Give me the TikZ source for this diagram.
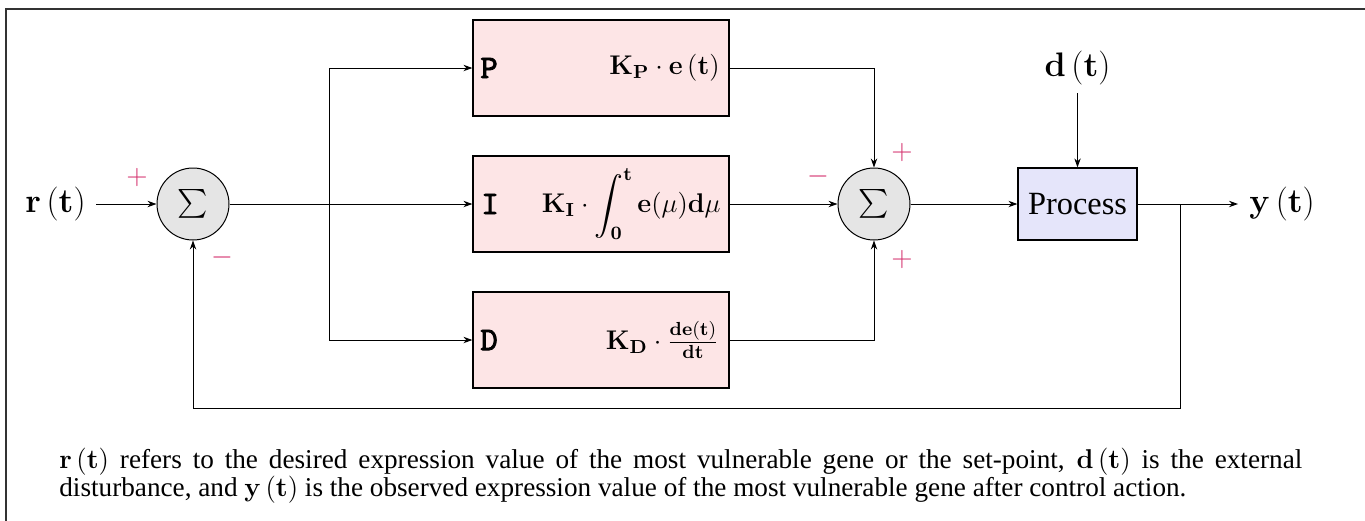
\RequirePackage{fix-cm}
\documentclass[tikz,border=0pt]{standalone}
\usepackage{amsmath}
\usepackage[no-math]{fontspec}
\setmainfont{Liberation Serif}
\newfontfamily\pidfont{lmmono10-regular.otf}[FakeBold=2.5]
\usetikzlibrary{arrows.meta}
\definecolor{pidfill}{RGB}{253,229,230}
\definecolor{procfill}{RGB}{229,229,250}
\definecolor{signcol}{RGB}{212,50,110}
\tikzset{
  >={Stealth[length=4.5pt,width=3.2pt]},
  conn/.style={line width=0.5pt},
  sumc/.style={circle,draw,line width=0.5pt,fill=gray!20,minimum size=36pt,inner sep=0pt,
     font=\fontsize{15}{18}\selectfont},
  pidbox/.style={draw,line width=0.6pt,fill=pidfill,minimum width=128pt,minimum height=48pt,inner sep=0pt},
  procbox/.style={draw,line width=0.6pt,fill=procfill,minimum width=59.5pt,minimum height=36pt,inner sep=0pt,
     font=\rmfamily\fontsize{16.2}{18}\selectfont},
  sig/.style={font=\fontsize{17}{19}\selectfont,inner sep=1pt},
  pidlab/.style={font=\pidfont\fontsize{16.5}{19}\selectfont,inner sep=0pt},
  formula/.style={font=\fontsize{13.5}{16}\selectfont,inner sep=0pt},
  sign/.style={text=signcol,font=\fontsize{14}{16}\selectfont,inner sep=0pt},
  frame/.style={draw=black!80,line width=0.8pt},
}
\begin{document}
\begin{tikzpicture}[x=0.5pt,y=-0.5pt]
\useasboundingbox (0,0) rectangle (1365,520);
\draw[frame] (6,9) rectangle (1420,580);

% signals
\node[sig,anchor=east] (rt) at (88,204) {$\mathbf{r}\left(\mathbf{t}\right)$};
\node[sig] (dt) at (1077.5,68) {$\mathbf{d}\left(\mathbf{t}\right)$};
\node[sig,anchor=west] (yt) at (1247,204) {$\mathbf{y}\left(\mathbf{t}\right)$};

% summing junctions
\node[sumc] (s1) at (193,204) {$\sum$};
\node[sumc] (s2) at (874,204) {$\sum$};

% PID boxes
\node[pidbox] (P) at (601,68) {};
\node[pidbox] (I) at (601,204) {};
\node[pidbox] (D) at (601,340) {};
\node[pidlab,anchor=west] (Pl) at (480,68) {P};
\node[pidlab,anchor=west] (Il) at (481,204) {I};
\node[pidlab,anchor=west] (Dl) at (480,340) {D};
\node[formula,anchor=east] (Pf) at (720,68) {$\mathbf{K_P}\cdot\mathbf{e}\left(\mathbf{t}\right)$};
\node[formula,anchor=east] (If) at (721,204) {$\mathbf{K_I}\cdot\displaystyle\int_{\mathbf{0}}^{\mathbf{t}}\mathbf{e}(\mu)\mathbf{d}\mu$};
\node[formula,anchor=east] (Df) at (719,340) {$\mathbf{K_D}\cdot\frac{\mathbf{de(t)}}{\mathbf{dt}}$};

% process
\node[procbox] (proc) at (1077.5,204) {Process};

% connectors
\coordinate (br) at (329,204);
\coordinate (fb) at (1180,204);
\coordinate (fbb) at (1180,408);
\draw[conn,->,shorten <=4pt] (rt.east) -- (s1.west);
\draw[conn,->] (s1.east) -- (I.west);
\draw[conn,->] (br) |- (P.west);
\draw[conn,->] (br) |- (D.west);
\draw[conn,->] (P.east) -| (s2.north);
\draw[conn,->] (D.east) -| (s2.south);
\draw[conn,->] (I.east) -- (s2.west);
\draw[conn,->] (s2.east) -- (proc.west);
\draw[conn,->] (dt.south) ++(0,6) -- (proc.north);
\draw[conn,->,shorten >=4.5pt] (proc.east) -- (yt.west);
\draw[conn,->] (fb) -- (fbb) -| (s1.south);

% signs
\node[sign] (p1) at (137,177) {$+$};
\node[sign] (m1) at (222,257) {$-$};
\node[sign] (m2) at (818,176) {$-$};
\node[sign] (p2) at (902,152) {$+$};
\node[sign] (p3) at (902,259) {$+$};

% caption
\node[anchor=north west,align=left,inner sep=0pt,font=\fontsize{13.6}{13.6}\selectfont] (cap) at (59,448)
 {\makebox[621.5pt][s]{$\mathbf{r}\left(\mathbf{t}\right)$ refers to the desired expression value of the most vulnerable gene or the set-point, $\mathbf{d}\left(\mathbf{t}\right)$ is the external}\\
  disturbance, and $\mathbf{y}\left(\mathbf{t}\right)$ is the observed expression value of the most vulnerable gene after control action.};
\end{tikzpicture}
\end{document}
